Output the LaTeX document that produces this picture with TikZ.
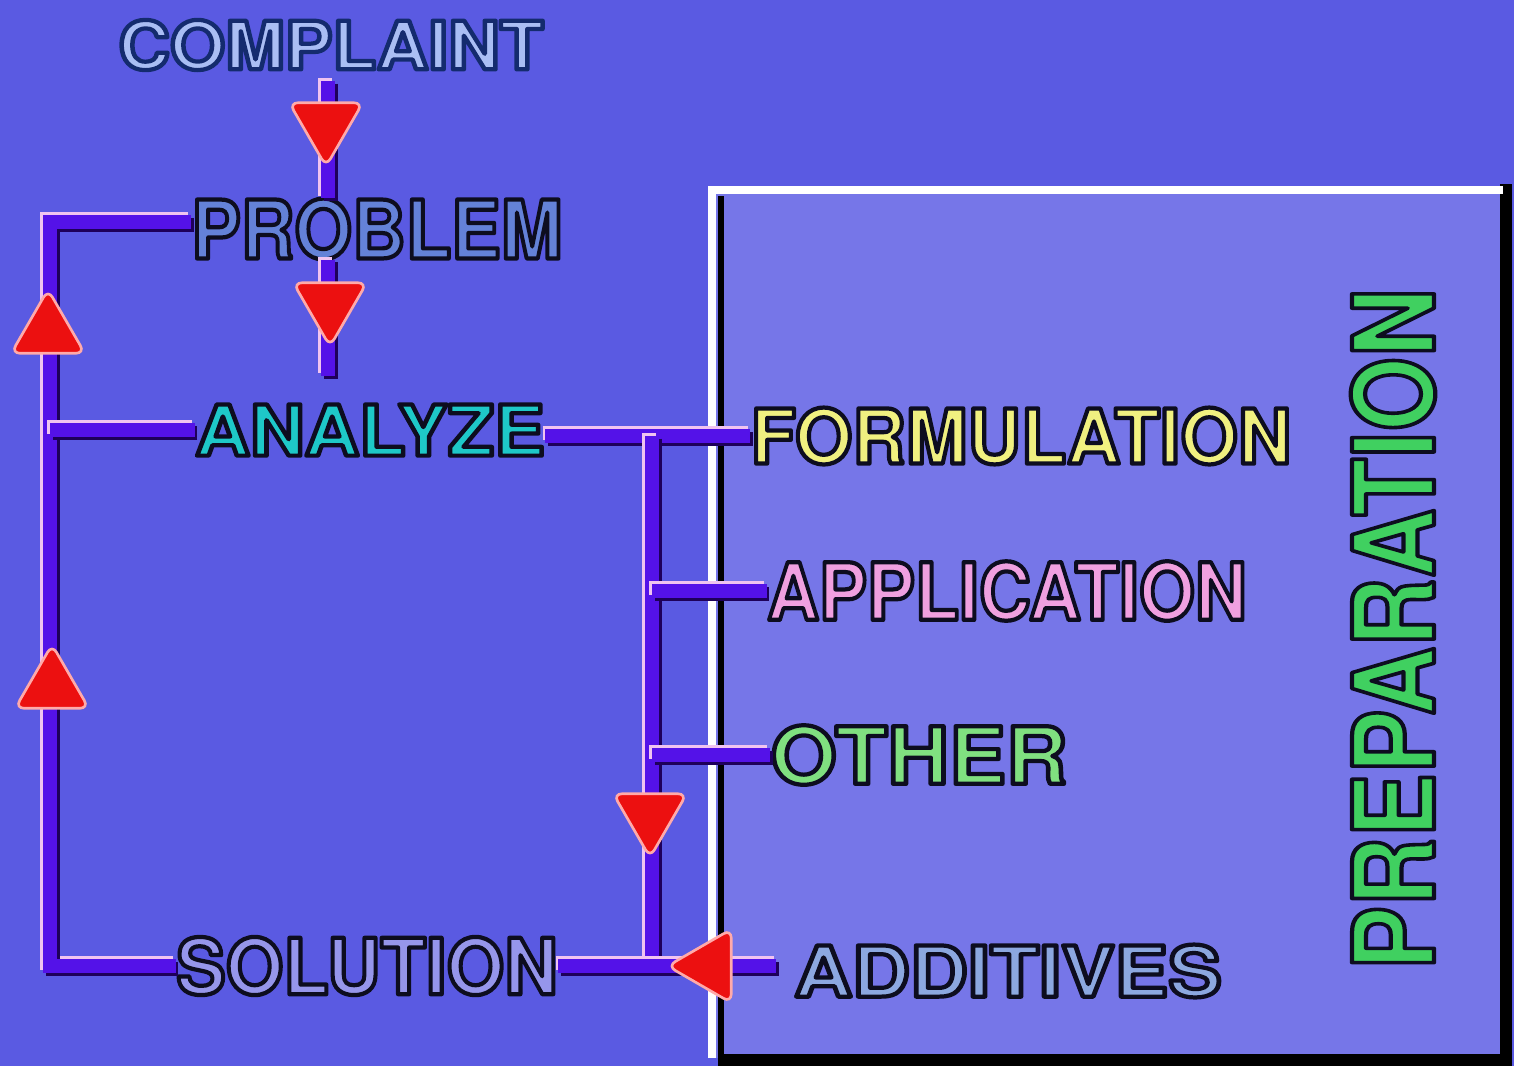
\documentclass[tikz,border=0pt]{standalone}
\usepackage{fontspec}
\setmainfont{TeX Gyre Heros}
\newfontfamily\headfont{TeX Gyre Heros}
\usepackage{graphicx}
\usetikzlibrary{shapes.geometric, positioning}

\definecolor{bgblue}{RGB}{90,90,226}
\definecolor{panel}{RGB}{118,118,232}
\definecolor{pipecol}{RGB}{84,18,232}
\definecolor{pipehi}{RGB}{240,196,240}
\definecolor{pipelo}{RGB}{30,0,90}
\definecolor{arrowred}{RGB}{236,16,16}
\definecolor{arrowrim}{RGB}{255,170,170}
\definecolor{complaintcol}{RGB}{170,190,244}
\definecolor{problemcol}{RGB}{100,130,216}
\definecolor{analyzecol}{RGB}{30,200,200}
\definecolor{solutioncol}{RGB}{150,150,235}
\definecolor{formulationcol}{RGB}{240,240,128}
\definecolor{applicationcol}{RGB}{240,160,224}
\definecolor{othercol}{RGB}{128,224,128}
\definecolor{additivescol}{RGB}{140,168,224}
\definecolor{preparationcol}{RGB}{64,208,96}

% outlined heading text: size, stretch, fill, rim (rgb numbers), text
\newcommand\rimtext[5]{%
  {\headfont\bfseries\fontsize{#1}{#1}\selectfont
  \scalebox{#2}[1]{\color{#3}%
    \special{pdf:literal direct #4 RG 2 Tr 2.4 w 1 j}#5%
    \special{pdf:literal direct 0 Tr}}}}

\begin{document}
\begin{tikzpicture}[
    x=0.02cm, y=-0.02cm,
    lbl/.style={inner sep=0pt},
    pipe/.style={draw=pipecol, line width=8pt,
      preaction={draw=pipehi, line width=8pt, transform canvas={shift={(-1.5pt,1.5pt)}}},
      preaction={draw=pipelo, line width=8pt, transform canvas={shift={(1.5pt,-1.5pt)}}}},
    arrowhead/.style={regular polygon, regular polygon sides=3, minimum size=1.7cm,
      inner sep=0pt, fill=arrowred, draw=arrowrim, line width=1.5pt, rounded corners=5pt}
]

   % background and panel
   \useasboundingbox (0,0) rectangle (1514,1066);
   \fill[bgblue] (0,0) rectangle (1514,1066);
   \fill[panel] (712,188) rectangle (1505,1058);
   \draw[black, line width=7pt] (1506,184) -- (1506,1060) -- (718,1060);
   \draw[black, line width=3pt] (721,196) -- (721,1058);
   \draw[white, line width=4pt] (712,1058) -- (712,190) -- (1503,190);

   % labels
   \node[lbl] (complaint) at (331,45) {\rimtext{38}{1.07}{complaintcol}{0.08 0.17 0.43}{COMPLAINT}};
   \node[lbl] (problem) at (377,229) {\rimtext{46}{0.92}{problemcol}{0.05 0.05 0.12}{PROBLEM}};
   \node[lbl] (analyze) at (370,430) {\rimtext{40}{1.08}{analyzecol}{0.05 0.05 0.12}{ANALYZE}};
   \node[lbl] (solution) at (367,966) {\rimtext{44}{0.96}{solutioncol}{0.05 0.05 0.12}{SOLUTION}};
   \node[lbl] (formulation) at (1021,436) {\rimtext{43}{0.98}{formulationcol}{0.05 0.05 0.12}{FORMULATION}};
   \node[lbl] (application) at (1007,591) {\rimtext{45}{0.91}{applicationcol}{0.05 0.05 0.12}{APPLICATION}};
   \node[lbl] (other) at (919,755) {\rimtext{45}{1.08}{othercol}{0.05 0.05 0.12}{OTHER}};
   \node[lbl] (additives) at (1008,971) {\rimtext{40}{1.14}{additivescol}{0.05 0.05 0.12}{ADDITIVES}};
   \node[lbl, rotate=90] (preparation) at (1393,629) {\rimtext{64}{0.85}{preparationcol}{0.05 0.05 0.12}{PREPARATION}};

   % junction points
   \coordinate (drop) at (328,0);
   \coordinate (lt) at (50,222);
   \coordinate (lb) at (50,966);
   \coordinate (bt) at (652,436);
   \coordinate (bb) at (652,966);

   % connectors
   \draw[pipe, shorten <=6pt] (complaint.south -| drop) -- (problem.north -| drop);
   \draw[pipe, shorten >=16pt] (problem.south -| drop) -- (analyze.north -| drop);
   \draw[pipe] (problem.west |- lt) -- (lt) -- (lb) -- (solution.west |- lb);
   \draw[pipe] (analyze.west) -- (analyze.west -| lt);
   \draw[pipe] (analyze.east |- bt) -- (formulation.west |- bt);
   \draw[pipe] (bt) -- (bb);
   \draw[pipe] (bb |- application.west) -- (application.west);
   \draw[pipe] (bb |- other.west) -- (other.west);
   \draw[pipe, shorten >=10pt] (solution.east |- bb) -- (additives.west |- bb);

   % arrow heads
   \node[arrowhead, rotate=180] (a1) at (326,124) {};
   \node[arrowhead, rotate=180] (a2) at (330,304) {};
   \node[arrowhead] (a3) at (48,332) {};
   \node[arrowhead] (a4) at (52,687) {};
   \node[arrowhead, rotate=180] (a5) at (650,815) {};
   \node[arrowhead, rotate=90] (a6) at (710,966) {};
\end{tikzpicture}
\end{document}
